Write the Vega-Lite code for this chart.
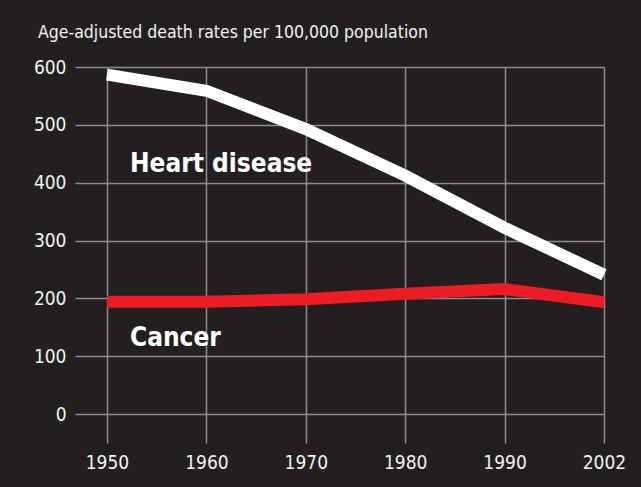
{
  "$schema": "https://vega.github.io/schema/vega-lite/v6.json",
  "width": 497,
  "height": 347,
  "autosize": {"type": "none"},
  "padding": {"left": 107, "top": 67, "right": 37, "bottom": 73},
  "background": "#231f20",
  "title": {
    "text": "Age-adjusted death rates per 100,000 population",
    "anchor": "start",
    "frame": "group",
    "dx": -69,
    "offset": -5,
    "baseline": "alphabetic",
    "font": "DejaVu Sans Condensed, sans-serif",
    "fontSize": 17.5,
    "fontWeight": "normal",
    "color": "#f2f2f2"
  },
  "config": {
    "view": {"stroke": null},
    "axis": {
      "domain": false,
      "grid": true,
      "gridColor": "#8c8c8c",
      "gridWidth": 1.5,
      "tickColor": "#8c8c8c",
      "tickWidth": 1.5,
      "labelFont": "DejaVu Sans Condensed, sans-serif",
      "labelFontSize": 19,
      "labelColor": "#f2f2f2",
      "title": null
    }
  },
  "datasets": {
    "rates": [
      {"year": "1950", "cause": "Heart disease", "rate": 586.8},
      {"year": "1960", "cause": "Heart disease", "rate": 559.0},
      {"year": "1970", "cause": "Heart disease", "rate": 492.7},
      {"year": "1980", "cause": "Heart disease", "rate": 412.1},
      {"year": "1990", "cause": "Heart disease", "rate": 321.8},
      {"year": "2002", "cause": "Heart disease", "rate": 240.8},
      {"year": "1950", "cause": "Cancer", "rate": 193.9},
      {"year": "1960", "cause": "Cancer", "rate": 193.9},
      {"year": "1970", "cause": "Cancer", "rate": 198.6},
      {"year": "1980", "cause": "Cancer", "rate": 207.9},
      {"year": "1990", "cause": "Cancer", "rate": 216.0},
      {"year": "2002", "cause": "Cancer", "rate": 193.2}
    ],
    "labels": [
      {"year": "1950", "cause": "Heart disease", "rate": 419},
      {"year": "1950", "cause": "Cancer", "rate": 118}
    ]
  },
  "encoding": {
    "x": {
      "field": "year",
      "type": "ordinal",
      "scale": {"type": "point", "padding": 0, "domain": ["1950", "1960", "1970", "1980", "1990", "2002"]},
      "axis": {"labelAngle": 0, "tickSize": 29, "labelPadding": 10}
    },
    "y": {
      "field": "rate",
      "type": "quantitative",
      "scale": {"domain": [0, 600], "nice": false},
      "axis": {"values": [0, 100, 200, 300, 400, 500, 600], "tickSize": 32, "labelPadding": 9}
    }
  },
  "layer": [
    {
      "data": {"name": "rates"},
      "mark": {"type": "line", "strokeWidth": 12, "strokeCap": "butt", "strokeJoin": "miter"},
      "encoding": {
        "color": {
          "field": "cause",
          "type": "nominal",
          "scale": {"domain": ["Heart disease", "Cancer"], "range": ["#ffffff", "#ed1c24"]},
          "legend": null
        }
      }
    },
    {
      "data": {"name": "labels"},
      "mark": {
        "type": "text",
        "align": "left",
        "baseline": "alphabetic",
        "dx": 23,
        "font": "DejaVu Sans Condensed, sans-serif",
        "fontSize": 26,
        "fontWeight": "bold",
        "color": "#ffffff"
      },
      "encoding": {"text": {"field": "cause"}}
    }
  ]
}
